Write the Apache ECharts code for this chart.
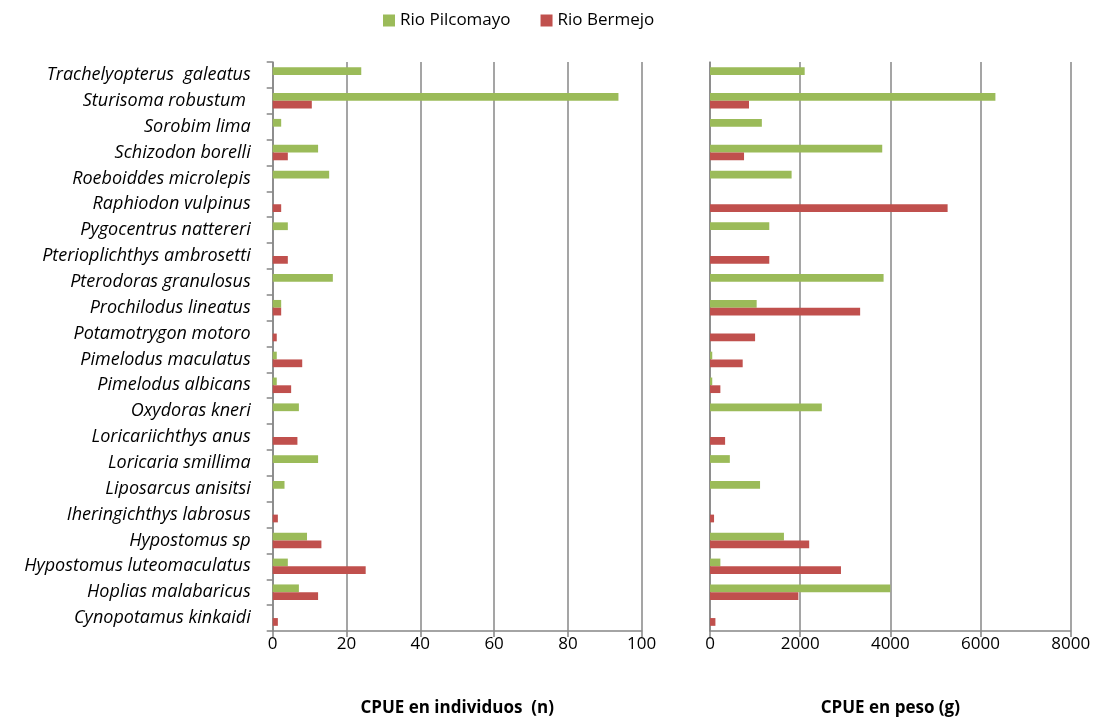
<!DOCTYPE html>
<html>
<head>
<meta charset="utf-8">
<script src="https://cdn.jsdelivr.net/npm/echarts@6/dist/echarts.min.js"></script>
<style>html,body{margin:0;padding:0;background:#fff;}#c{width:1099px;height:722px;}</style>
</head>
<body>
<div id="c"></div>
<script>
const categories = ['Trachelyopterus  galeatus','Sturisoma robustum ','Sorobim lima','Schizodon borelli','Roeboiddes microlepis','Raphiodon vulpinus','Pygocentrus nattereri','Pterioplichthys ambrosetti','Pterodoras granulosus','Prochilodus lineatus','Potamotrygon motoro','Pimelodus maculatus','Pimelodus albicans','Oxydoras kneri','Loricariichthys anus','Loricaria smillima','Liposarcus anisitsi','Iheringichthys labrosus','Hypostomus sp','Hypostomus luteomaculatus','Hoplias malabaricus','Cynopotamus kinkaidi'];
const seriesNames = ['Rio Pilcomayo','Rio Bermejo'];
const pilcomayoN = [24, 93.7, 2.3, 12.3, 15.3, 0, 4.1, 0, 16.3, 2.3, 0, 1.1, 1.1, 7.1, 0, 12.3, 3.2, 0, 9.3, 4.1, 7.1, 0];
const bermejoN = [0, 10.6, 0, 4.1, 0, 2.3, 0, 4.1, 0, 2.3, 1.1, 8.0, 5.0, 0, 6.7, 0, 0, 1.4, 13.2, 25.2, 12.3, 1.4];
const pilcomayoG = [2100, 6330, 1150, 3820, 1810, 0, 1315, 0, 3850, 1035, 0, 50, 50, 2480, 0, 440, 1110, 0, 1640, 230, 4000, 0];
const bermejoG = [0, 865, 0, 755, 0, 5270, 0, 1315, 0, 3330, 1000, 725, 230, 0, 335, 0, 0, 90, 2200, 2905, 1960, 120];
const axisTitles = ['CPUE en individuos  (n)', 'CPUE en peso (g)'];

const FONT = 'Open Sans';
const GRID_COL = '#878787';
const chart = echarts.init(document.getElementById('c'));
function xAx(idx, max, interval, name) {
  return {
    type: 'value', gridIndex: idx, min: 0, max: max, interval: interval,
    name: name, nameLocation: 'middle', nameGap: 69,
    nameTextStyle: {fontFamily: FONT, fontWeight: 'bold', fontSize: 17, color: '#000'},
    axisLine: {show: true, lineStyle: {color: GRID_COL, width: 1.5}},
    axisTick: {show: true, length: 6, lineStyle: {color: GRID_COL, width: 1.5}},
    axisLabel: {fontFamily: FONT, fontSize: 17, color: '#000', margin: 5, formatter: v => String(v)},
    splitLine: {show: true, lineStyle: {color: GRID_COL, width: 1.5}}
  };
}
function yAx(idx, showLabels) {
  return {
    type: 'category', gridIndex: idx, data: categories, inverse: true,
    axisLine: {show: true, lineStyle: {color: GRID_COL, width: 1.5}},
    axisTick: {show: showLabels, length: 6, lineStyle: {color: GRID_COL, width: 1.5}},
    axisLabel: {show: showLabels, fontFamily: FONT, fontStyle: 'italic', fontSize: 18, color: '#000', margin: 22},
    splitLine: {show: false}
  };
}
function bar(name, x, y, data, color) {
  return {
    type: 'bar', name: name, xAxisIndex: x, yAxisIndex: y, data: data,
    barGap: '0%', barCategoryGap: '40%',
    itemStyle: {color: color},
    emphasis: {disabled: true}
  };
}
chart.setOption({
  animation: false,
  backgroundColor: '#fff',
  legend: {
    data: seriesNames, left: 378, top: 7, itemWidth: 12, itemHeight: 12, itemGap: 30,
    icon: 'rect',
    textStyle: {fontFamily: FONT, fontSize: 17, color: '#000'}
  },
  grid: [
    {left: 272.7, top: 62, width: 369, height: 570, containLabel: false},
    {left: 710, top: 62, width: 360.7, height: 570, containLabel: false}
  ],
  xAxis: [xAx(0, 100, 20, axisTitles[0]), xAx(1, 8000, 2000, axisTitles[1])],
  yAxis: [yAx(0, true), yAx(1, false)],
  series: [
    bar(seriesNames[0], 0, 0, pilcomayoN, '#9BBB59'),
    bar(seriesNames[1], 0, 0, bermejoN, '#C0504D'),
    bar(seriesNames[0], 1, 1, pilcomayoG, '#9BBB59'),
    bar(seriesNames[1], 1, 1, bermejoG, '#C0504D')
  ]
});
</script>
</body>
</html>
